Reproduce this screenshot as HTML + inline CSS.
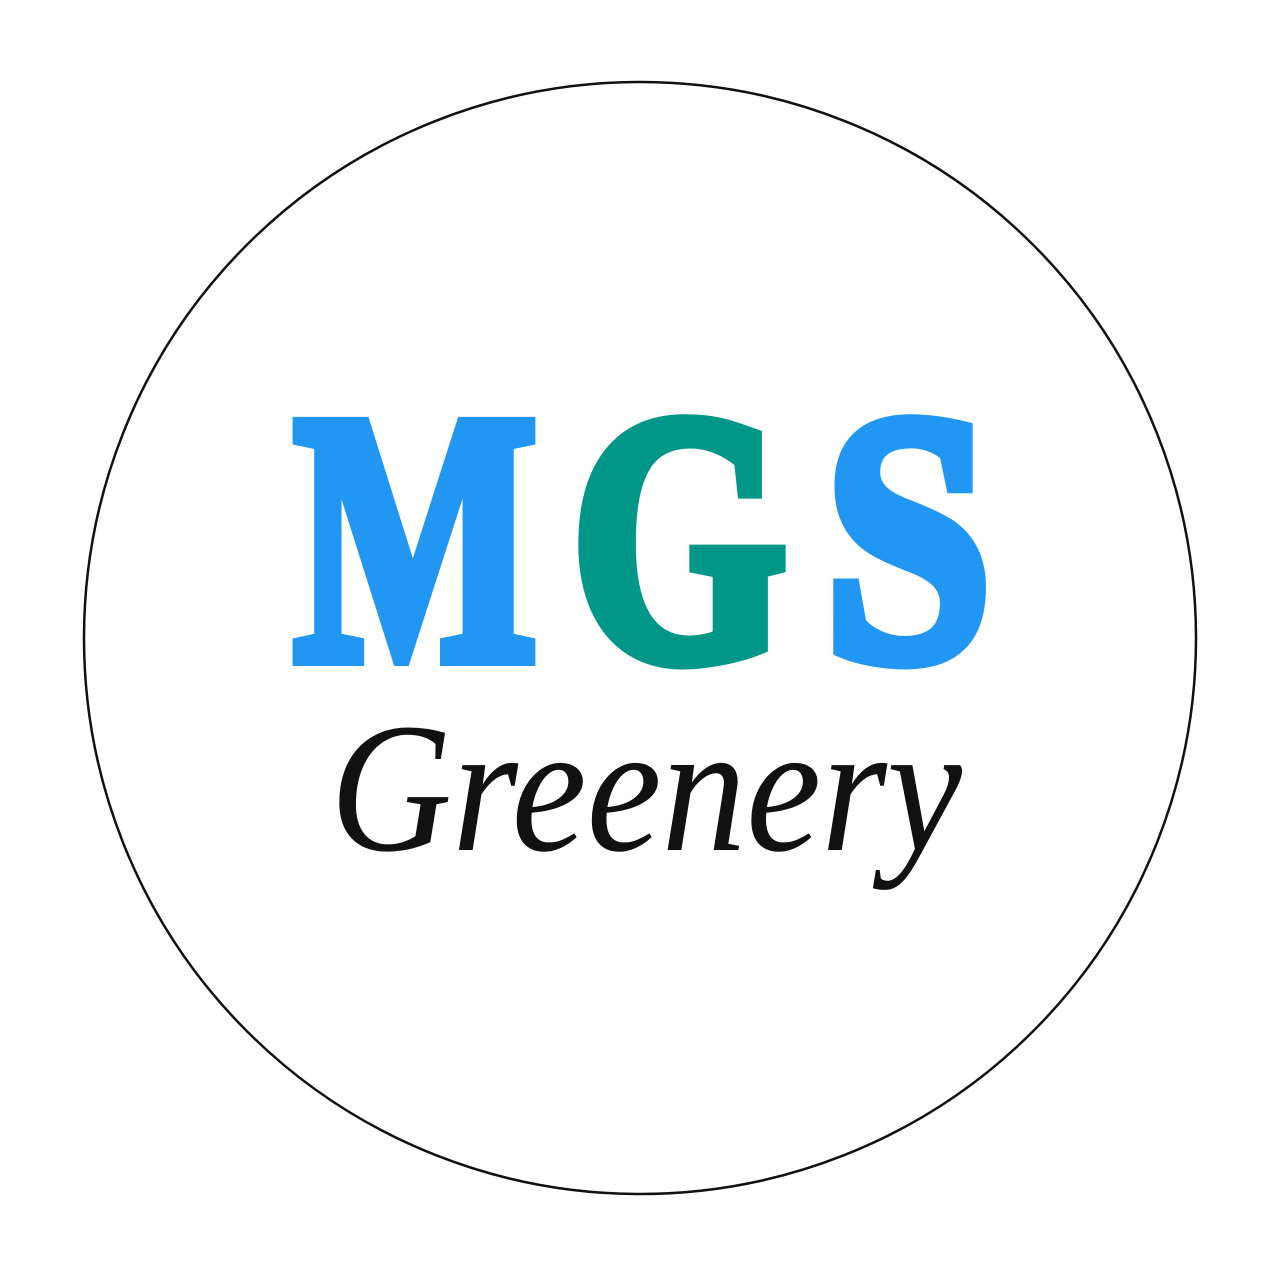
<!DOCTYPE html>
<html>
<head>
<meta charset="utf-8">
<style>
  html,body{margin:0;padding:0;background:#fff;}
  body{width:1280px;height:1280px;overflow:hidden;}
</style>
</head>
<body>
<svg width="1280" height="1280" viewBox="0 0 1280 1280" xmlns="http://www.w3.org/2000/svg">
  <rect x="0" y="0" width="1280" height="1280" fill="#ffffff"/>
  <circle cx="640" cy="638" r="556" fill="#ffffff" stroke="#111" stroke-width="2.5"/>
  <g font-family="'Liberation Serif', serif" font-weight="bold" font-size="356" stroke-width="16" stroke-linejoin="miter">
    <text x="294" y="658" textLength="243" lengthAdjust="spacingAndGlyphs" fill="#2196F3" stroke="#2196F3">M</text>
    <text x="571" y="658" textLength="216" lengthAdjust="spacingAndGlyphs" fill="#009688" stroke="#009688">G</text>
    <text x="824" y="658" textLength="168" lengthAdjust="spacingAndGlyphs" fill="#2196F3" stroke="#2196F3">S</text>
  </g>
  <text x="330" y="850" textLength="632" lengthAdjust="spacingAndGlyphs"
        font-family="'Liberation Serif', serif" font-style="italic" font-size="185" fill="#111">Greenery</text>
</svg>
</body>
</html>
